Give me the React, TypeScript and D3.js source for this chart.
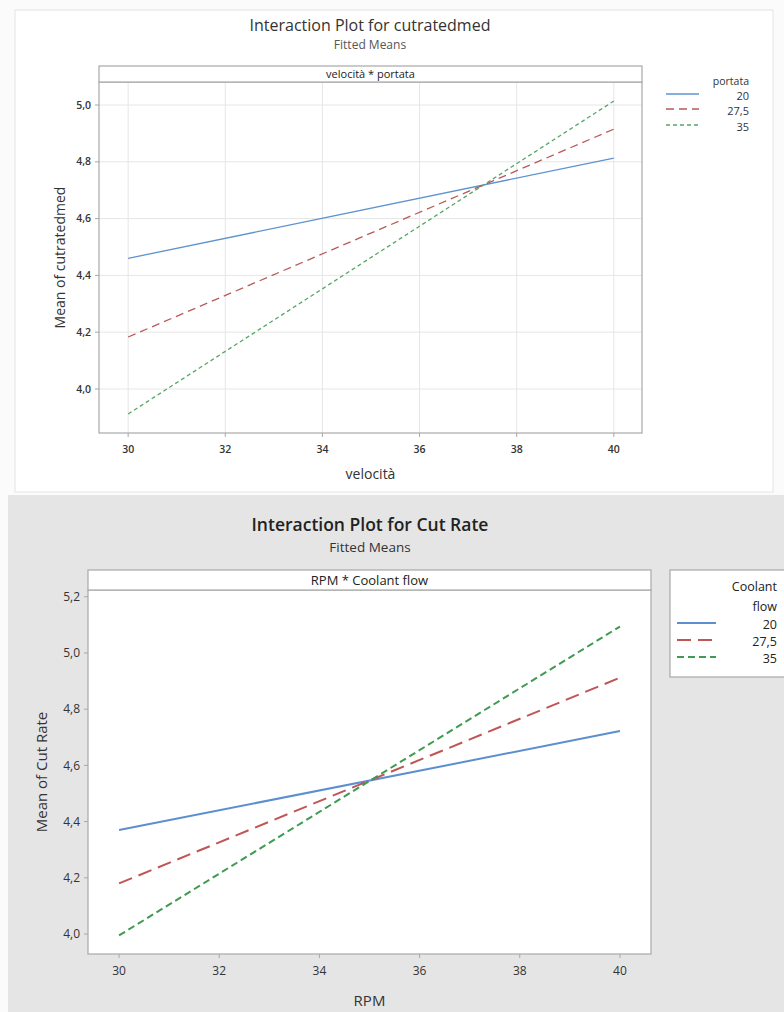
import React from "react";
import * as d3 from "d3";

// ---------- data ----------
const xLevels = [30, 40];
const xTicks = [30, 32, 34, 36, 38, 40];

const topSeriesNames = ["20", "27,5", "35"];
const top20 = [4.46, 4.813];
const top275 = [4.183, 4.915];
const top35 = [3.912, 5.014];
const topYTicks = [4.0, 4.2, 4.4, 4.6, 4.8, 5.0];

const botSeriesNames = ["20", "27,5", "35"];
const bot20 = [4.37, 4.722];
const bot275 = [4.18, 4.912];
const bot35 = [3.995, 5.094];
const botYTicks = [4.0, 4.2, 4.4, 4.6, 4.8, 5.0, 5.2];

const fmt = (v: number) => d3.format(".1f")(v).replace(".", ",");
const FONT = "'Open Sans', 'Noto Sans', sans-serif";

type Series = { name: string; values: number[]; color: string; dash: string; width: number };

function Panel(props: {
  left: number; right: number; top: number; bottom: number;
  stripTop: number; stripLabel: string;
  xDomain: [number, number]; yDomain: [number, number];
  yTicks: number[]; series: Series[]; grid: boolean;
  tickFont: number; tickWeight: number; tickLabelY: number; yLabelRight: number;
  yTitle: string; yTitleX: number; xTitle: string; xTitleY: number; axisFont: number;
  stripFont: number;
}) {
  const p = props;
  const x = d3.scaleLinear().domain(p.xDomain).range([p.left, p.right]);
  const y = d3.scaleLinear().domain(p.yDomain).range([p.bottom, p.top]);
  const line = d3.line<number>().x((_, i) => x(xLevels[i])).y((d) => y(d));
  const midY = (p.top + p.bottom) / 2;
  const midX = (p.left + p.right) / 2;
  return (
    <g>
      <rect x={p.left} y={p.top} width={p.right - p.left} height={p.bottom - p.top} fill="#fff" />
      {p.grid && xTicks.map((t) => (
        <line key={"gx" + t} x1={x(t)} x2={x(t)} y1={p.top} y2={p.bottom} stroke="#e6e6e6" strokeWidth={1} />
      ))}
      {p.grid && p.yTicks.map((t) => (
        <line key={"gy" + t} x1={p.left} x2={p.right} y1={y(t)} y2={y(t)} stroke="#e6e6e6" strokeWidth={1} />
      ))}
      {p.series.map((s) => (
        <path key={s.name} d={line(s.values) || ""} fill="none" stroke={s.color} strokeWidth={s.width} strokeDasharray={s.dash} />
      ))}
      <rect x={p.left} y={p.top} width={p.right - p.left} height={p.bottom - p.top} fill="none" stroke="#a8a8a8" strokeWidth={1.2} />
      {/* strip */}
      <rect x={p.left} y={p.stripTop} width={p.right - p.left} height={p.top - p.stripTop} fill="#fff" stroke="#a8a8a8" strokeWidth={1.2} />
      <text x={midX} y={(p.stripTop + p.top) / 2} dy="0.35em" textAnchor="middle" fontSize={p.stripFont} fill="#222" fontFamily={FONT}>{p.stripLabel}</text>
      {/* y axis */}
      {p.yTicks.map((t) => (
        <g key={"yt" + t}>
          <line x1={p.left - 4} x2={p.left} y1={y(t)} y2={y(t)} stroke="#a8a8a8" />
          <text x={p.yLabelRight} y={y(t)} dy="0.35em" textAnchor="end" fontSize={p.tickFont} fontWeight={p.tickWeight} fill="#333" fontFamily={FONT}>{fmt(t)}</text>
        </g>
      ))}
      {/* x axis */}
      {xTicks.map((t) => (
        <g key={"xt" + t}>
          <line x1={x(t)} x2={x(t)} y1={p.bottom} y2={p.bottom + 4} stroke="#a8a8a8" />
          <text x={x(t)} y={p.tickLabelY} dy="0.35em" textAnchor="middle" fontSize={p.tickFont} fontWeight={p.tickWeight} fill="#333" fontFamily={FONT}>{t}</text>
        </g>
      ))}
      <text x={midX} y={p.xTitleY} dy="0.35em" textAnchor="middle" fontSize={p.axisFont} fill="#333" fontFamily={FONT}>{p.xTitle}</text>
      <text transform={`translate(${p.yTitleX},${midY}) rotate(-90)`} dy="0.35em" textAnchor="middle" fontSize={p.axisFont} fill="#333" fontFamily={FONT}>{p.yTitle}</text>
    </g>
  );
}

export default function App() {
  const topSeries: Series[] = [
    { name: topSeriesNames[0], values: top20, color: "#5f93d0", dash: "", width: 1.3 },
    { name: topSeriesNames[1], values: top275, color: "#b85a5a", dash: "8,5", width: 1.3 },
    { name: topSeriesNames[2], values: top35, color: "#55a566", dash: "4,3", width: 1.3 },
  ];
  const botSeries: Series[] = [
    { name: botSeriesNames[0], values: bot20, color: "#5b8fd0", dash: "", width: 2 },
    { name: botSeriesNames[1], values: bot275, color: "#c05555", dash: "14,7", width: 2 },
    { name: botSeriesNames[2], values: bot35, color: "#3f9a52", dash: "7,4", width: 2 },
  ];
  const topLegY = [96, 111, 127];
  const botLegY = [625, 642, 659];
  return (
    <div style={{ position: "absolute", left: 0, top: 0, width: 784, height: 1012 }}>
      <svg width={784} height={1012} style={{ display: "block" }}>
        <rect x={0} y={0} width={784} height={1012} fill="#fbfbfb" />
        {/* top panel */}
        <rect x={15} y={10} width={758} height={482} fill="#fff" stroke="#e4e4e4" strokeWidth={1} />
        <text x={370} y={25} dy="0.35em" textAnchor="middle" fontSize={16} fill="#333" fontFamily={FONT}>Interaction Plot for cutratedmed</text>
        <text x={370} y={45} dy="0.35em" textAnchor="middle" fontSize={12} fill="#555" fontFamily={FONT}>Fitted Means</text>
        <Panel left={99} right={642} top={82} bottom={433} stripTop={66} stripLabel="velocità * portata"
          xDomain={[29.4, 40.58]} yDomain={[3.845, 5.081]} yTicks={topYTicks} series={topSeries} grid={true}
          tickFont={10.5} tickWeight={600} tickLabelY={449} yLabelRight={91}
          yTitle="Mean of cutratedmed" yTitleX={60} xTitle="velocità" xTitleY={474} axisFont={14} stripFont={11} />
        <text x={749} y={81} dy="0.35em" textAnchor="end" fontSize={10.5} fill="#333" fontFamily={FONT}>portata</text>
        {topSeries.map((s, i) => (
          <g key={"tl" + i}>
            <line x1={666} x2={699} y1={topLegY[i] - 2} y2={topLegY[i] - 2} stroke={s.color} strokeWidth={1.3} strokeDasharray={s.dash} />
            <text x={749} y={topLegY[i]} dy="0.35em" textAnchor="end" fontSize={11} fill="#333" fontFamily={FONT}>{s.name}</text>
          </g>
        ))}
        {/* bottom panel */}
        <rect x={8} y={495} width={776} height={517} fill="#e5e5e5" />
        <text x={370} y={525} dy="0.35em" textAnchor="middle" fontSize={17.5} fontWeight={600} fill="#222" fontFamily={FONT}>Interaction Plot for Cut Rate</text>
        <text x={370} y={547} dy="0.35em" textAnchor="middle" fontSize={13.5} fill="#333" fontFamily={FONT}>Fitted Means</text>
        <Panel left={88} right={651} top={590} bottom={954} stripTop={570} stripLabel="RPM * Coolant flow"
          xDomain={[29.38, 40.62]} yDomain={[3.929, 5.224]} yTicks={botYTicks} series={botSeries} grid={false}
          tickFont={12} tickWeight={400} tickLabelY={971} yLabelRight={80}
          yTitle="Mean of Cut Rate" yTitleX={42} xTitle="RPM" xTitleY={1001} axisFont={15} stripFont={13} />
        <rect x={670} y={570} width={130} height={107} fill="#fff" stroke="#a8a8a8" strokeWidth={1.2} />
        <text x={777} y={587} dy="0.35em" textAnchor="end" fontSize={12.5} fill="#222" fontFamily={FONT}>Coolant</text>
        <text x={777} y={607} dy="0.35em" textAnchor="end" fontSize={12.5} fill="#222" fontFamily={FONT}>flow</text>
        {botSeries.map((s, i) => (
          <g key={"bl" + i}>
            <line x1={677} x2={716} y1={botLegY[i] - 2} y2={botLegY[i] - 2} stroke={s.color} strokeWidth={2} strokeDasharray={s.dash} />
            <text x={777} y={botLegY[i]} dy="0.35em" textAnchor="end" fontSize={12.5} fill="#222" fontFamily={FONT}>{s.name}</text>
          </g>
        ))}
      </svg>
    </div>
  );
}
